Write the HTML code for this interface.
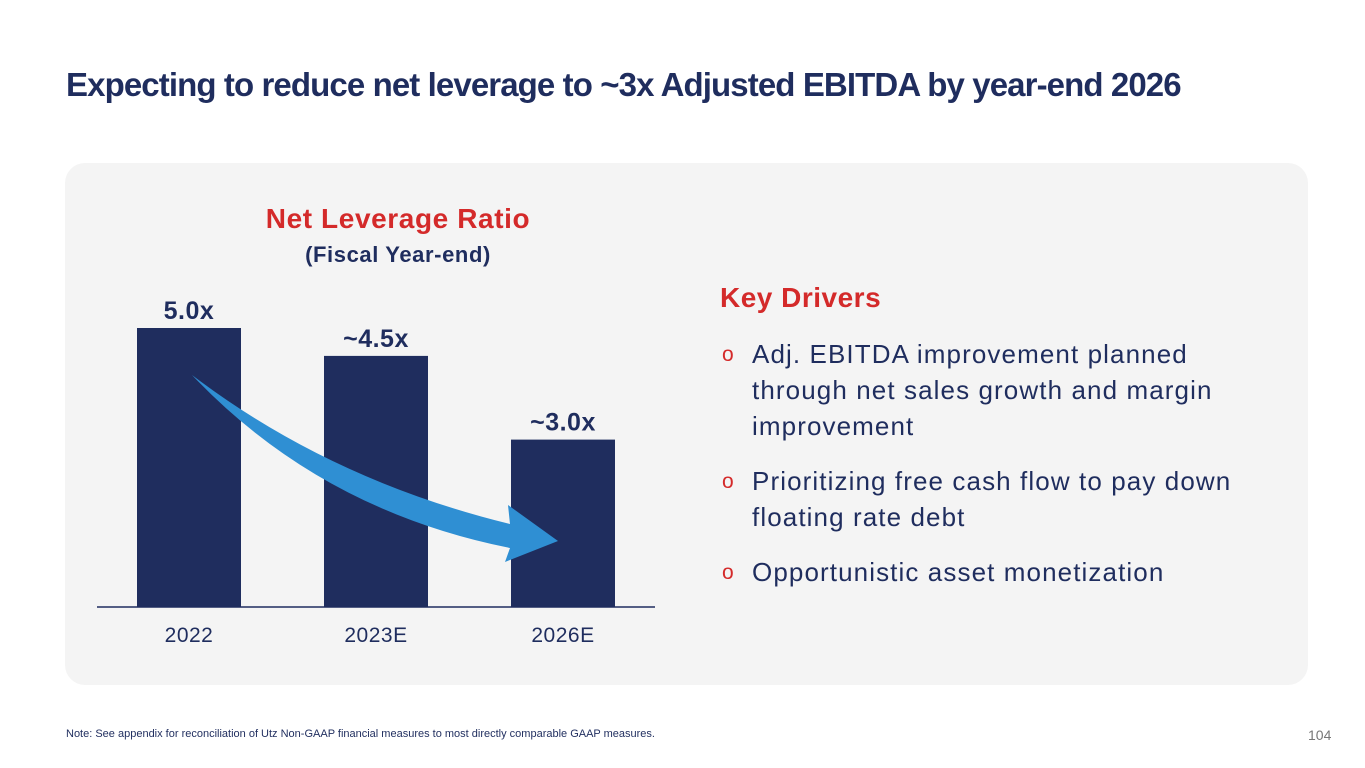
<!DOCTYPE html>
<html><head><meta charset="utf-8"><style>
body{margin:0;width:1365px;height:768px;background:#fff;font-family:"Liberation Sans",sans-serif;position:relative;overflow:hidden}
.abs{position:absolute}
#title{left:66px;top:66px;font-size:33px;font-weight:bold;color:#1f2d5e;letter-spacing:-0.9px;white-space:nowrap}
#panel{left:65px;top:163px;width:1243px;height:522px;background:#f4f4f4;border-radius:20px}
.drv{color:#1f2d5e;font-size:26px;line-height:36px;letter-spacing:1.1px;white-space:nowrap}
.bul{color:#d42a2a;font-size:21px;position:absolute;left:-30px;top:1px}
</style></head><body>
<div id="title" class="abs">Expecting to reduce net leverage to ~3x Adjusted EBITDA by year-end 2026</div>
<div id="panel" class="abs"></div>
<div class="abs" style="left:200px;top:203px;width:396px;text-align:center;color:#d42a2a;font-size:28px;font-weight:bold;letter-spacing:0.6px">Net Leverage Ratio</div>
<div class="abs" style="left:200px;top:242px;width:396px;text-align:center;color:#1f2d5e;font-size:22px;font-weight:bold;letter-spacing:0.6px">(Fiscal Year-end)</div>
<svg class="abs" style="left:0;top:0" width="1365" height="768" id="chart"></svg>
<div class="abs" style="left:720px;top:282px;color:#d42a2a;font-size:28px;font-weight:bold;letter-spacing:0.5px">Key Drivers</div>
<div class="abs drv" style="left:752px;top:336px"><span class="bul">o</span>Adj. EBITDA improvement planned<br>through net sales growth and margin<br>improvement</div>
<div class="abs drv" style="left:752px;top:463px"><span class="bul">o</span>Prioritizing free cash flow to pay down<br>floating rate debt</div>
<div class="abs drv" style="left:752px;top:554px"><span class="bul">o</span>Opportunistic asset monetization</div>
<div class="abs" style="left:66px;top:728px;font-size:11px;color:#1f2d5e">Note: See appendix for reconciliation of Utz Non-GAAP financial measures to most directly comparable GAAP measures.</div>
<div class="abs" style="left:1308px;top:727px;font-size:14px;color:#777">104</div>
<script>
const categories=["2022","2023E","2026E"];
const values=[5.0,4.5,3.0];
const valueLabels=["5.0x","~4.5x","~3.0x"];
const svg=document.getElementById('chart');
const NS='http://www.w3.org/2000/svg';
const base=607, scale=55.8, x0=137, step=187, bw=104;
const xPos=i=>x0+i*step;
const yPos=v=>base-v*scale;
function mk(t,a){const e=document.createElementNS(NS,t);for(const k in a)e.setAttribute(k,a[k]);svg.appendChild(e);return e;}
categories.forEach((c,i)=>{
  const r=mk('rect',{x:xPos(i),y:yPos(values[i]),width:bw,height:base-yPos(values[i]),fill:'#1f2d5e'});
  
  
  const l=mk('text',{x:xPos(i)+bw/2,y:yPos(values[i])-9,'text-anchor':'middle','font-size':'25','font-weight':'bold',fill:'#1f2d5e','font-family':'Liberation Sans','letter-spacing':'0.5'});
  l.textContent=valueLabels[i];
  
  
  const t=mk('text',{x:xPos(i)+bw/2,y:642,'text-anchor':'middle','font-size':'21',fill:'#1f2d5e','font-family':'Liberation Sans','letter-spacing':'0.5'});
  t.textContent=c;
  
  
});
const ax=mk('line',{x1:97,y1:607,x2:655,y2:607,stroke:'#1f2d5e','stroke-width':1.5});


const ar=mk('path',{d:'M192,375 Q330,480 510,524 L508,505 L558,541 L505,562 L510,548 Q320,510 192,375 Z',fill:'#2f8fd3'});


</script>
</body></html>
